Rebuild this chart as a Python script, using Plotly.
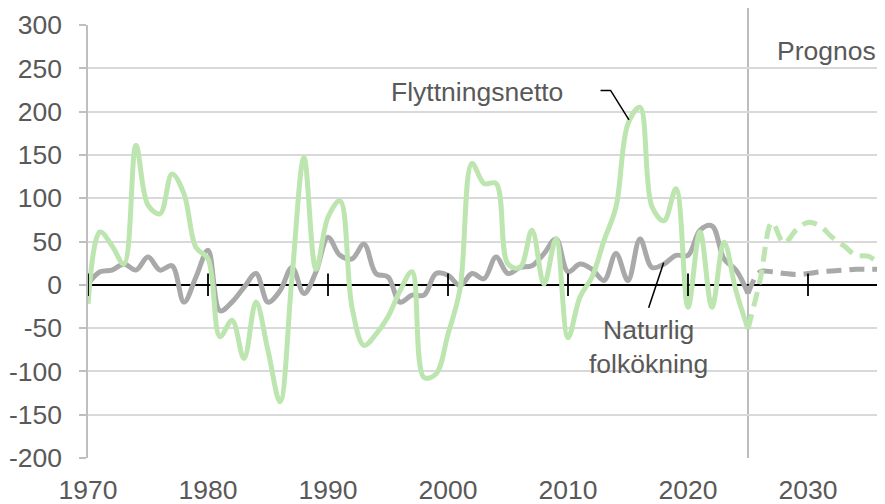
import plotly.graph_objects as go

years_hist = list(range(1970, 2026))
flytt_hist = [-22, 61, 45, 24, 161, 92, 82, 128, 105, 43,
              30, -60, -41, -85, -20, -76, -135, 9, 147, 18,
              78, 97, -26, -70, -57, -37, -7, 15, -107, -103,
              -57, -5, 140, 117, 117, 24, 20, 63, 1, 53,
              -61, -14, 9, 51, 90, 186, 205, 90, 74, 111,
              -26, 61, -26, 49, -7, -51]
natur_hist = [1, 15, 17, 24, 17, 32, 17, 22, -20, 9,
              40, -30, -20, -3, 13, -20, -7, 20, -10, 15,
              55, 34, 30, 47, 13, 9, -20, -12, -12, 13,
              11, -1, 13, 7, 32, 13, 20, 22, 36, 53,
              15, 24, 18, 5, 36, 5, 53, 20, 24, 34,
              34, 63, 68, 30, 17, -10]

years_prog = list(range(2025, 2037))
flytt_prog = [-51, 5, 72, 48, 63, 72, 68, 55, 45, 34, 33, 24]
natur_prog = [-10, 15, 15, 13, 12, 13, 15, 16, 17, 18, 18, 18]

x_ticks = [1970, 1980, 1990, 2000, 2010, 2020, 2030]
y_ticks = [-200, -150, -100, -50, 0, 50, 100, 150, 200, 250, 300]
y_ticklabels = ["-200", "-150", "-100", "-50", "0", "50", "100", "150", "200", "250", "300"]

GREEN = "#bde5b0"
GRAY = "#a9a9a9"
TXT = "#595959"
FONT = "Liberation Sans, Arial, sans-serif"
FS = 26.5

fig = go.Figure()

fig.add_trace(go.Scatter(x=years_hist, y=natur_hist, mode="lines",
                         line=dict(color=GRAY, width=5, shape="spline", smoothing=1),
                         hoverinfo="skip", showlegend=False))
fig.add_trace(go.Scatter(x=years_prog, y=natur_prog, mode="lines",
                         line=dict(color=GRAY, width=5, shape="spline", smoothing=1, dash="15px,8px"),
                         hoverinfo="skip", showlegend=False))
fig.add_trace(go.Scatter(x=years_hist, y=flytt_hist, mode="lines",
                         line=dict(color=GREEN, width=5, shape="spline", smoothing=1),
                         hoverinfo="skip", showlegend=False))
fig.add_trace(go.Scatter(x=years_prog, y=flytt_prog, mode="lines",
                         line=dict(color=GREEN, width=5, shape="spline", smoothing=1, dash="15px,8px"),
                         hoverinfo="skip", showlegend=False))

# tick marks on the zero line
fig.add_trace(go.Scatter(x=x_ticks, y=[0] * len(x_ticks), mode="markers",
                         marker=dict(symbol="line-ns-open", size=16, color="black",
                                     line=dict(color="black", width=1.8)),
                         hoverinfo="skip", showlegend=False, cliponaxis=False))

# forecast divider
fig.add_shape(type="line", xref="x", yref="paper", x0=2025, x1=2025, y0=0, y1=1.05,
              line=dict(color="#a6a6a6", width=1.5), layer="below")

# leader lines
fig.add_shape(type="path", xref="x", yref="y",
              path="M 2012.71 224.4 L 2013.55 224.4 L 2015.08 190.5",
              line=dict(color="black", width=1.5))
fig.add_shape(type="line", xref="x", yref="y",
              x0=2016.72, y0=-26.6, x1=2017.97, y1=25.4,
              line=dict(color="black", width=1.5))

fig.add_annotation(x=2002.44, y=223, xref="x", yref="y", text="Flyttningsnetto",
                   showarrow=False, font=dict(size=FS, color=TXT, family=FONT))
fig.add_annotation(x=2016.72, y=-72, xref="x", yref="y", text="Naturlig<br>folkökning",
                   showarrow=False, font=dict(size=FS, color=TXT, family=FONT))
fig.add_annotation(x=2035.8, y=270, xref="x", yref="y", text="Prognos", xanchor="right",
                   showarrow=False, font=dict(size=FS, color=TXT, family=FONT))

# the page body has an 8px default margin, so the figure is 8px smaller and margins shifted
fig.update_layout(
    width=877, height=496,
    margin=dict(l=80, r=5, t=17, b=46),
    paper_bgcolor="white", plot_bgcolor="white",
    font=dict(family=FONT, color=TXT, size=FS),
    xaxis=dict(range=[1970, 2036], tickvals=x_ticks, ticktext=[str(v) for v in x_ticks],
               showgrid=False, zeroline=False, showline=False, ticks="",
               tickfont=dict(size=FS, color=TXT), ticklabelstandoff=13, automargin=False),
    yaxis=dict(range=[-200, 300], tickvals=y_ticks, ticktext=y_ticklabels,
               showgrid=True, gridcolor="#d9d9d9", gridwidth=1.5,
               zeroline=True, zerolinecolor="black", zerolinewidth=2,
               showline=True, linecolor="#bfbfbf", linewidth=1.5,
               ticks="outside", ticklen=7, tickcolor="#bfbfbf", tickwidth=1.5,
               tickfont=dict(size=FS, color=TXT), ticklabelstandoff=12, automargin=False),
)

fig.write_html("out.html")
